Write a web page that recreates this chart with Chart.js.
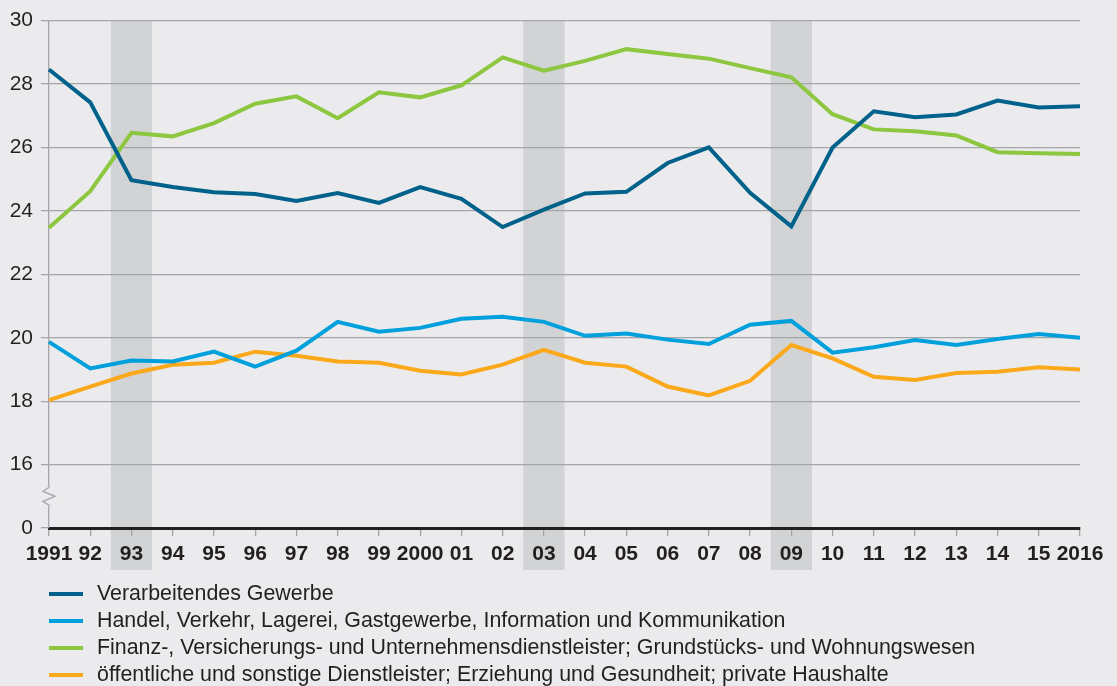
<!DOCTYPE html>
<html>
<head>
<meta charset="utf-8">
<script src="https://cdn.jsdelivr.net/npm/chart.js@4.4.1/dist/chart.umd.min.js"></script>
<style>
  html, body { margin: 0; padding: 0; background: #ebebed; }
  #wrap { position: relative; width: 1117px; height: 686px; overflow: hidden; }
  #legend { position: absolute; left: 49px; top: 580px; font-family: "Liberation Sans", Arial, sans-serif; font-size: 21.4px; color: #231f20; }
  .item { position: absolute; left: 0; height: 27px; white-space: nowrap; }
  .swatch { position: absolute; left: 0; width: 34px; height: 4px; }
  .lbl { position: absolute; left: 48px; line-height: 27px; }
</style>
</head>
<body>
<div id="wrap">
  <canvas id="c" width="1117" height="686"></canvas>
  <div id="legend"></div>
</div>
<script>
const years = ['1991','1992','1993','1994','1995','1996','1997','1998','1999','2000','2001','2002','2003','2004','2005','2006','2007','2008','2009','2010','2011','2012','2013','2014','2015','2016'];
const tickLabels = ['1991','92','93','94','95','96','97','98','99','2000','01','02','03','04','05','06','07','08','09','10','11','12','13','14','15','2016'];
const verarbeitend = [28.46,27.42,24.97,24.75,24.59,24.53,24.31,24.56,24.25,24.75,24.38,23.49,24.04,24.55,24.60,25.51,26.00,24.57,23.51,26.00,27.14,26.95,27.04,27.48,27.26,27.30];
const handel = [19.87,19.03,19.28,19.25,19.56,19.09,19.59,20.50,20.19,20.31,20.60,20.66,20.50,20.06,20.13,19.94,19.80,20.41,20.53,19.53,19.70,19.93,19.77,19.96,20.12,20.00];
const finanz = [23.47,24.62,26.46,26.35,26.77,27.38,27.61,26.92,27.74,27.58,27.96,28.84,28.42,28.73,29.10,28.95,28.80,28.50,28.21,27.05,26.57,26.51,26.38,25.85,25.82,25.79];
const oeffentlich = [18.03,18.46,18.87,19.15,19.21,19.56,19.43,19.25,19.21,18.96,18.84,19.15,19.62,19.21,19.09,18.46,18.18,18.64,19.77,19.35,18.77,18.67,18.89,18.93,19.07,19.00];
const recessionYears = ['1993','2003','2009'];
const seriesNames = ['Verarbeitendes Gewerbe','Handel, Verkehr, Lagerei, Gastgewerbe, Information und Kommunikation','Finanz-, Versicherungs- und Unternehmensdienstleister; Grundstücks- und Wohnungswesen','öffentliche und sonstige Dienstleister; Erziehung und Gesundheit; private Haushalte'];
const seriesColors = ['#00628b','#00a0dc','#8dc63f','#fba81b'];
const yTicks = [14,16,18,20,22,24,26,28,30];
const yTickText = ['0','16','18','20','22','24','26','28','30'];

const BG = '#ebebed', SHADE = '#d2d3d5', GRID = '#a4a5a8', TXT = '#231f20';

const bgPlugin = {
  id: 'bgShade',
  beforeDraw(chart) {
    const ctx = chart.ctx, x = chart.scales.x, ca = chart.chartArea;
    ctx.save();
    ctx.fillStyle = BG;
    ctx.fillRect(0, 0, chart.width, chart.height);
    ctx.fillStyle = SHADE;
    recessionYears.forEach(y => {
      const i = years.indexOf(y);
      const x0 = x.getPixelForValue(i - 0.5), x1 = x.getPixelForValue(i + 0.5);
      ctx.fillRect(x0, ca.top, x1 - x0, 570 - ca.top);
    });
    ctx.restore();
  },
  afterDraw(chart) {
    const ctx = chart.ctx, y = chart.scales.y, ca = chart.chartArea;
    const xl = ca.left;
    const y16 = y.getPixelForValue(16), y0 = y.getPixelForValue(14);
    const mid = (y16 + y0) / 2;
    ctx.save();
    ctx.fillStyle = BG;
    ctx.fillRect(xl - 2, mid - 11, 4, 22);
    ctx.strokeStyle = GRID;
    ctx.lineWidth = 1.3;
    ctx.beginPath();
    ctx.moveTo(xl, mid - 11);
    ctx.lineTo(xl, mid - 9);
    ctx.lineTo(xl - 6, mid - 5);
    ctx.lineTo(xl + 6, mid);
    ctx.lineTo(xl - 6, mid + 5);
    ctx.lineTo(xl, mid + 9);
    ctx.lineTo(xl, mid + 11);
    ctx.stroke();
    ctx.restore();
  }
};

const datasetsSrc = [verarbeitend, handel, finanz, oeffentlich];
const datasets = datasetsSrc.map((d, i) => ({
  label: seriesNames[i],
  data: d,
  borderColor: seriesColors[i],
  backgroundColor: seriesColors[i],
  borderWidth: 4,
  pointRadius: 0,
  tension: 0,
  fill: false,
  borderJoinStyle: 'miter'
}));

new Chart(document.getElementById('c'), {
  type: 'line',
  data: { labels: years, datasets: datasets },
  options: {
    responsive: false,
    animation: false,
    events: [],
    layout: { padding: { left: 0, right: 37, top: 19, bottom: 0 } },
    plugins: { legend: { display: false }, tooltip: { enabled: false } },
    scales: {
      x: {
        type: 'category',
        offset: false,
        afterFit(s) { s.height = 158; },
        grid: { display: true, drawOnChartArea: false, drawTicks: true, tickLength: 8, color: GRID, tickColor: GRID, lineWidth: 1.3 },
        border: { display: true, color: TXT, width: 3 },
        ticks: {
          autoSkip: false, maxRotation: 0, minRotation: 0, padding: 6,
          color: TXT,
          font: { family: '"Liberation Sans", Arial, sans-serif', size: 21, weight: 'bold' },
          callback: (v, i) => tickLabels[i]
        }
      },
      y: {
        min: 14, max: 30,
        afterFit(s) { s.width = 49; },
        afterBuildTicks(s) { s.ticks = yTicks.map(v => ({ value: v })); },
        grid: {
          drawTicks: true, tickLength: 8, lineWidth: 1.3,
          color: ctx => (ctx.tick && ctx.tick.value === 14) ? 'rgba(0,0,0,0)' : GRID,
          tickColor: GRID
        },
        border: { display: true, color: GRID, width: 1.3 },
        ticks: {
          padding: 8, color: TXT,
          font: { family: '"Liberation Sans", Arial, sans-serif', size: 21 },
          callback: v => yTickText[yTicks.indexOf(v)]
        }
      }
    }
  },
  plugins: [bgPlugin]
});

const leg = document.getElementById('legend');
seriesNames.forEach((n, i) => {
  const it = document.createElement('div');
  it.className = 'item';
  it.style.top = (i * 27) + 'px';
  const sw = document.createElement('div');
  sw.className = 'swatch';
  sw.style.background = seriesColors[i];
  sw.style.top = '12px';
  const lb = document.createElement('div');
  lb.className = 'lbl';
  lb.textContent = n;
  it.appendChild(sw); it.appendChild(lb);
  leg.appendChild(it);
});
</script>
</body>
</html>
